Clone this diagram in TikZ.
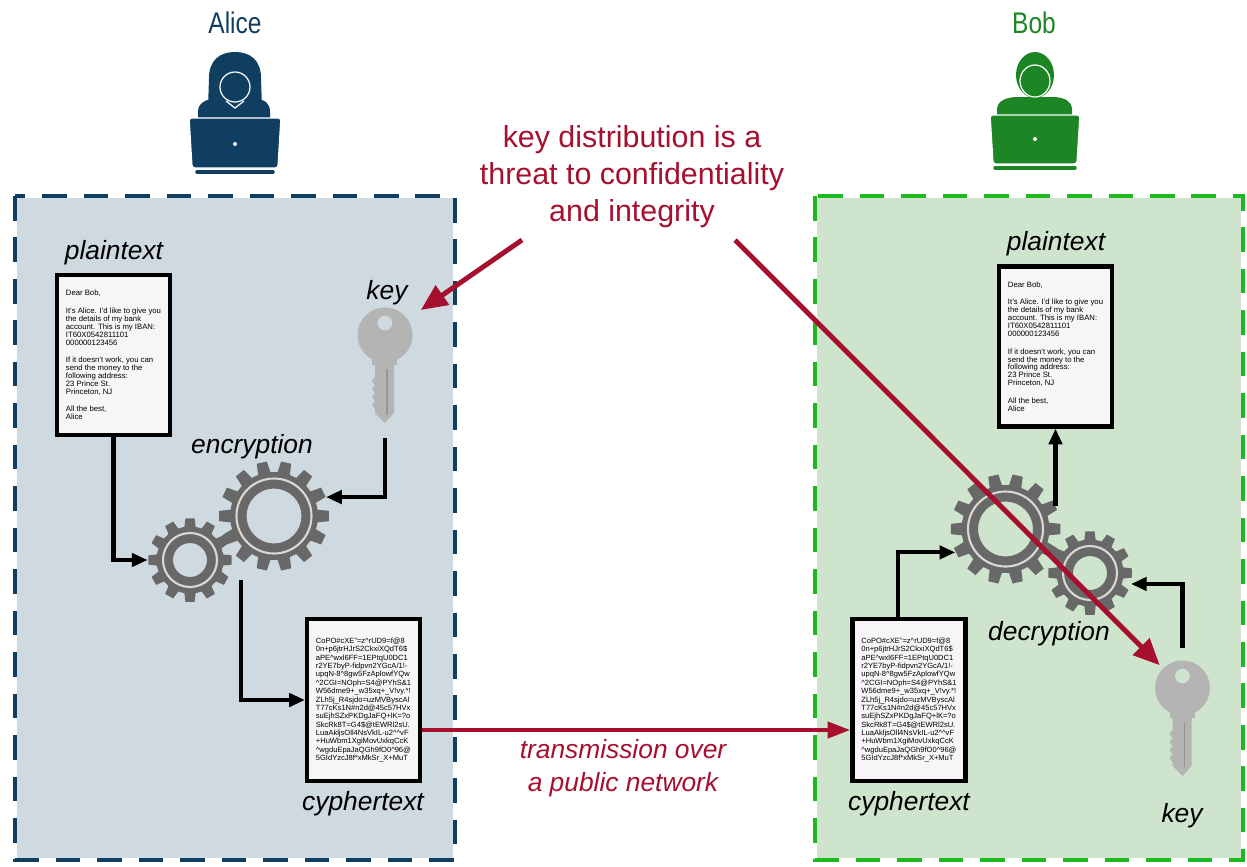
\documentclass[tikz,border=0pt]{standalone}
\usepackage{fontspec}
\setmainfont{Liberation Sans}
\newfontfamily\namefont[FakeStretch=0.82]{Liberation Sans}
\usetikzlibrary{arrows.meta,calc}

\definecolor{alicecol}{RGB}{16,62,97}
\definecolor{alicebg}{RGB}{207,217,224}
\definecolor{bobcol}{RGB}{28,134,36}
\definecolor{bobdash}{RGB}{32,184,32}
\definecolor{bobbg}{RGB}{207,228,205}
\definecolor{threatred}{RGB}{166,16,46}
\definecolor{gearcol}{RGB}{104,104,104}
\definecolor{ringcol}{RGB}{218,216,210}
\definecolor{keycol}{RGB}{180,180,180}
\definecolor{keygroove}{RGB}{150,150,150}
\definecolor{paper}{RGB}{246,246,246}

\newlength\pxw
\setlength\pxw{0.02cm}

\newcommand\letterlines{%
Dear Bob,\\[5.5pt]
It's Alice. I'd like to give you\\
the details of my bank\\
account. This is my IBAN:\\
IT60X0542811101\\
000000123456\\[5.5pt]
If it doesn't work, you can\\
send the money to the\\
following address:\\
23 Prince St.\\
Princeton, NJ\\[5.5pt]
All the best,\\
Alice}

\newcommand\cypherlines{%
CoPO\#cXE"=z\textasciicircum rUD9=f@8\\
0n+p6jtrHJrS2CkxiXQdT6\$\\
aPE\textasciicircum wxl6FF=1EPtqU0DC1\\
r2YE7byP-fidpvn2YGcA/1!-\\
upqN-8\textasciicircum 8gw5FzAplowfYQw\\
\textasciicircum 2CGI=NOph=S4@PYhS\&1\\
W56dme9+\_w35xq+\_V!vy.*!\\
ZLh5j\_R4sjdo=uzMVByscAl\\
T77cKs1N\#n2d@45c57HVx\\
suEjhSZxPKDgJaFQ+lK=?o\\
SkcRk8T=G4\$@tEWRl2sU.\\
LuaAkljsOll4NsVkIL-u2\textasciicircum\textasciicircum vF\\
+HuWbm1XgiMovUxkqCcK\\
\textasciicircum wgduEpaJaQGh9fO0\textasciicircum 96@\\
5GIdYzcJ8f*xMkSr\_X+MuT}

\tikzset{
  pics/gear/.style args={#1/#2/#3/#4}{code={
    \pgfmathsetmacro\gstep{360/#1}
    \fill[gearcol,even odd rule] ({0.68*\gstep}:{0.8*#2})
      \foreach \i in {1,...,#1}{
        -- ({(\i-0.32)*\gstep}:{0.8*#2})
        -- ({(\i-0.21)*\gstep}:{#2})
        -- ({(\i+0.21)*\gstep}:{#2})
        -- ({(\i+0.32)*\gstep}:{0.8*#2})
      } -- cycle
      (0,0) circle (#3);
    \draw[ringcol,line width=1.2pt] (0,0) circle (#4);
    \node[circle,inner sep=0pt,minimum size=2*#2*\pxw] (-rim) at (0,0) {};
  }},
  pics/key/.style={code={
    \fill[keycol,even odd rule] (0,0) circle (27.5) (0,-12) circle (7.5);
    \fill[keycol] (-13,20) rectangle (12,30);
    \fill[keycol] (-10,28) -- (9,28) -- (9,78) -- (0,88) -- (-10,78)
      -- (-10,74) -- (-13,70) -- (-10,66) -- (-13,62) -- (-10,58)
      -- (-13,54) -- (-10,50) -- (-13,46) -- (-10,42) -- cycle;
    \draw[keygroove,line width=0.9pt] (2,34) -- (2,80);
    \node[circle,inner sep=0pt,minimum size=55*\pxw] (-head) at (0,0) {};
    \coordinate (-top) at (0,-40);
    \coordinate (-tip) at (0,103);
  }}
}

\begin{document}
\begin{tikzpicture}
[x=\pxw,y=-\pxw,%
  doc/.style={draw,line width=2.3pt,fill=paper,align=left,inner sep=0pt,
    minimum width=113*\pxw},%
  letter/.style={doc,minimum height=160*\pxw,font=\fontsize{4.4}{4.5}\selectfont},%
  scramble/.style={doc,minimum height=162*\pxw,font=\fontsize{4.3}{4.75}\selectfont},%
  tag/.style={anchor=base,inner sep=0pt,font=\fontsize{15}{18}\selectfont\itshape},%
  who/.style={anchor=base,inner sep=0pt,font=\namefont\fontsize{17}{20}\selectfont},%
  warn/.style={align=center,inner sep=0pt,text=threatred,
    font=\fontsize{17.3}{21}\selectfont},%
  flow/.style={line width=2.3pt,-{Triangle[length=9pt,width=7.5pt]}},%
  wire/.style={threatred,line width=2.6pt,-{Triangle[length=13pt,width=9pt]}},%
  threat/.style={threatred,line width=2.8pt,-{Triangle[length=15pt,width=13pt]}},%
  border/.style={line width=2.6pt,dash pattern=on 14pt off 9.6pt}]
\useasboundingbox (0,0) rectangle (1247,866);

%% the two sides
\fill[alicebg] (15,196) rectangle (455,860);
\draw[white,line width=2.6pt] (15,196) rectangle (455,860);
\draw[border,alicecol] (15,196) rectangle (455,860);
\fill[bobbg] (815,196) rectangle (1243,860);
\draw[white,line width=2.6pt] (815,196) rectangle (1243,860);
\draw[border,bobdash] (815,196) rectangle (1243,860);

%% Alice at her laptop
\begin{scope}[shift={(235,0)}]
  \fill[alicecol] (-27,108) -- (-26,78) .. controls (-26,60) and (-15,52) .. (0,52)
    .. controls (15,52) and (26,60) .. (26,78) -- (27,108) -- cycle;
  \fill[alicecol] (-37,120) -- (-37,112) .. controls (-37,103) and (-30,100) .. (-20,98)
    -- (20,98) .. controls (30,100) and (35,103) .. (35,112) -- (35,120) -- cycle;
  \filldraw[alicecol,draw=white,line width=0.7pt] (0,87) ellipse (15 and 15);
  \draw[white,line width=0.7pt] (-9,101) -- (0,108) -- (9,101);
  \filldraw[alicecol,draw=white,line width=0.8pt,rounded corners=1.5pt]
    (-46,118) -- (46,118) -- (43,168) -- (-43,168) -- cycle;
  \draw[alicecol,line width=2pt,line cap=round] (-38,172) -- (38,172);
  \fill[white] (0,144) circle (2);
\end{scope}

%% Bob at his laptop
\begin{scope}[shift={(1035,0)}]
  \fill[bobcol] (0,75) ellipse (19 and 23);
  \fill[bobcol] (-38,117) -- (-38,110) .. controls (-38,101) and (-30,98) .. (-20,97)
    -- (20,97) .. controls (30,98) and (37,101) .. (37,110) -- (37,117) -- cycle;
  \draw[white,line width=0.7pt] (0,81) ellipse (15 and 16);
  \filldraw[bobcol,draw=white,line width=0.8pt,rounded corners=1.5pt]
    (-45,115) -- (45,115) -- (42,164) -- (-42,164) -- cycle;
  \draw[bobcol,line width=2pt,line cap=round] (-40,168) -- (40,168);
  \fill[white] (0,139) circle (2);
\end{scope}

%% messages
\node[letter] (plainA) at (113.5,355) {\letterlines};
\node[letter] (plainB) at (1055.5,346.5) {\letterlines};
\node[scramble] (cipherA) at (363.5,700) {\cypherlines};
\node[scramble] (cipherB) at (909,700) {\cypherlines};

%% gears and keys
\pic (gearAs) at (190,560) {gear=12/42/17/27};
\pic (gearAb) at (274,516) {gear=14/55/27.5/37.5};
\pic (gearBb) at (1005.5,529) {gear=14/55/27.5/37.5};
\pic (gearBs) at (1090,573) {gear=12/42/17/27};
\pic (keyA) at (385,335) {key};
\pic (keyB) at (1182.5,688) {key};

%% labels
\foreach \lname/\x/\y/\txt in {
  plainAlbl/114/259/plaintext, keyAlbl/387/299/key,
  encAlbl/252/453/encryption, cipherAlbl/363/810/cyphertext,
  plainBlbl/1056/250/plaintext, decBlbl/1049/640/decryption,
  cipherBlbl/909/810/cyphertext, keyBlbl/1182/822/key}
{
  \node[tag] (\lname) at (\x,\y) {\txt};
}
\node[who,text=alicecol] (alice) at (235,33) {Alice};
\node[who,text=bobcol] (bob) at (1034,33) {Bob};
\node[warn] (warn) at (632,177) {key distribution is a\\threat to confidentiality\\and integrity};
\node[warn,font=\fontsize{15}{18.7}\selectfont\itshape] (net) at (623,768)
  {transmission over\\a public network};
\coordinate (warnL) at (522,240);
\coordinate (warnR) at (735,240);

%% flow of the message
\draw[flow] (plainA.south) |- (gearAs-rim.west);
\draw[flow] (keyA-tip) |- (gearAb-rim.20);
\draw[flow] ($(gearAb-rim.south)+(-33,9)$) |- (cipherA.west);
\draw[wire] ($(cipherA.east)+(0,30)$) -- ($(cipherB.west)+(0,30)$);
\draw[flow] ($(cipherB.north)+(-11,0)$) |- (gearBb-rim.-155);
\draw[flow] (plainB.south |- gearBb-rim.25) -- (plainB.south);
\draw[flow] (keyB-top) |- (gearBs-rim.-15);

%% the weak point
\draw[threat,shorten >=9pt] (warnL) -- (keyA-head.35);
\draw[threat,shorten >=2.5pt] (warnR) -- (keyB-head.135);
\end{tikzpicture}
\end{document}
